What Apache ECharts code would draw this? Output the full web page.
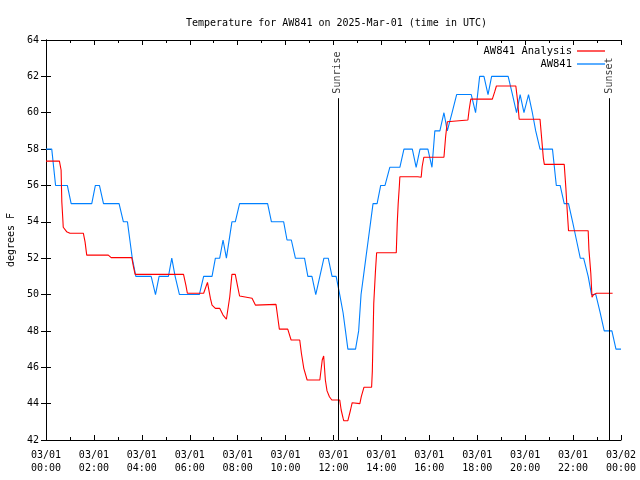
<!DOCTYPE html>
<html><head><meta charset="utf-8">
<script src="https://cdn.jsdelivr.net/npm/echarts@6/dist/echarts.min.js"></script>
<style>html,body{margin:0;padding:0;background:#fff}#c{width:640px;height:480px}</style>
</head><body><div id="c"></div>
<script>
const titleText = 'Temperature for AW841 on 2025-Mar-01 (time in UTC)';
const yName = 'degrees F';
const seriesNames = ['AW841 Analysis', 'AW841'];
const xTickLabels = {0:'03/01\n00:00',2:'03/01\n02:00',4:'03/01\n04:00',6:'03/01\n06:00',8:'03/01\n08:00',10:'03/01\n10:00',12:'03/01\n12:00',14:'03/01\n14:00',16:'03/01\n16:00',18:'03/01\n18:00',20:'03/01\n20:00',22:'03/01\n22:00',24:'03/02\n00:00'};
const sunriseH = 12.18;
const sunsetH = 23.51;
const markTop = 60.8;
const labelBase = 61.05;

// hours since 03/01 00:00 UTC, temperature F
const analysis = [
[0,57.34],[0.56,57.34],[0.63,56.85],[0.66,55.1],[0.7,54.2],[0.72,53.7],[0.86,53.46],[1.0,53.37],[1.56,53.37],[1.63,52.9],[1.7,52.17],[2.6,52.17],[2.72,52.03],[3.58,52.03],[3.65,51.53],[3.72,51.11],[4.49,51.11],[4.57,51.04],[4.69,51.11],[5.74,51.11],[5.84,50.5],[5.9,50.07],[6.58,50.07],[6.74,50.67],[6.86,49.8],[6.93,49.42],[7.07,49.24],[7.25,49.24],[7.39,48.87],[7.53,48.64],[7.67,49.88],[7.76,51.11],[7.9,51.11],[8.0,50.43],[8.08,49.92],[8.6,49.8],[8.74,49.42],[9.6,49.46],[9.67,48.78],[9.74,48.1],[10.09,48.1],[10.23,47.5],[10.59,47.5],[10.66,46.77],[10.76,45.94],[10.9,45.3],[11.43,45.3],[11.53,46.4],[11.59,46.62],[11.66,45.3],[11.73,44.7],[11.83,44.38],[11.93,44.2],[12.26,44.2],[12.32,43.65],[12.4,43.2],[12.43,43.06],[12.6,43.06],[12.71,43.65],[12.78,44.05],[13.1,44.0],[13.16,44.38],[13.27,44.9],[13.59,44.9],[13.62,45.76],[13.68,49.5],[13.75,51.26],[13.8,52.3],[14.62,52.3],[14.66,53.9],[14.7,55.0],[14.75,56.0],[14.77,56.48],[15.52,56.48],[15.6,56.45],[15.66,56.45],[15.7,57.03],[15.77,57.55],[16.61,57.55],[16.68,58.68],[16.75,59.5],[16.82,59.6],[17.61,59.6],[17.66,60.15],[17.73,60.75],[18.63,60.75],[18.73,61.16],[18.8,61.47],[19.61,61.47],[19.68,60.7],[19.75,59.64],[20.62,59.64],[20.68,58.72],[20.76,57.49],[20.8,57.16],[21.63,57.16],[21.7,55.84],[21.74,54.92],[21.81,53.51],[22.63,53.51],[22.66,52.5],[22.74,51.17],[22.79,49.85],[22.86,50.0],[22.98,50.07],[23.65,50.07]
];
const observed = [
[0,58],[0.24,58],[0.4,56],[0.89,56],[1.05,55],[1.91,55],[2.06,56],[2.23,56],[2.4,55],[3.05,55],[3.23,54],[3.4,54],[3.5,53],[3.6,52],[3.75,51],[4.39,51],[4.57,50],[4.72,51],[5.11,51],[5.25,52],[5.39,51],[5.57,50],[6.4,50],[6.58,51],[6.93,51],[7.07,52],[7.25,52],[7.39,53],[7.53,52],[7.76,54],[7.9,54],[8.08,55],[9.25,55],[9.41,54],[9.92,54],[10.06,53],[10.24,53],[10.41,52],[10.79,52],[10.93,51],[11.1,51],[11.26,50],[11.6,52],[11.78,52],[11.94,51],[12.11,51],[12.26,50],[12.4,49],[12.5,48],[12.6,47],[12.92,47],[13.05,48],[13.15,50],[13.25,51],[13.35,52],[13.45,53],[13.55,54],[13.65,55],[13.82,55],[13.97,56],[14.15,56],[14.35,57],[14.77,57],[14.94,58],[15.29,58],[15.45,57],[15.61,58],[15.94,58],[16.11,57],[16.23,59],[16.44,59],[16.61,60],[16.75,59],[16.95,60],[17.14,61],[17.75,61],[17.93,60],[18.1,62],[18.28,62],[18.45,61],[18.6,62],[19.29,62],[19.47,61],[19.64,60],[19.79,61],[19.95,60],[20.14,61],[20.3,60],[20.44,59],[20.62,58],[21.14,58],[21.3,56],[21.46,56],[21.63,55],[21.81,55],[21.98,54],[22.14,53],[22.3,52],[22.44,52],[22.63,51],[22.77,50],[22.95,50],[23.13,49],[23.3,48],[23.62,48],[23.79,47],[24,47]
];
const sunLabels = [[sunriseH, labelBase, 'Sunrise'], [sunsetH, labelBase, 'Sunset']];

const FONT = 'DejaVu Sans Mono';
const chart = echarts.init(document.getElementById('c'), null, {renderer:'canvas'});
const txt = {fontFamily: FONT, fontSize: 10, color: '#000'};
const axLine = {show: true, lineStyle: {color: '#000', width: 1}};
chart.setOption({
  animation: false,
  backgroundColor: '#fff',
  title: {text: titleText, left: 181, top: 13, textStyle: Object.assign({}, txt, {fontWeight: 'normal'})},
  grid: {left: 46, right: 19, top: 40, bottom: 40, containLabel: false, outerBoundsMode: 'none'},
  legend: {
    data: seriesNames, orient: 'vertical', right: 30, top: 40, align: 'right',
    icon: 'rect', itemWidth: 28, itemHeight: 1.3, itemGap: 1,
    textStyle: Object.assign({}, txt, {lineHeight: 12, fontSize: 10.5})
  },
  xAxis: [{
    type: 'value', min: 0, max: 24, interval: 2, position: 'bottom',
    axisLine: axLine, splitLine: {show: false},
    axisTick: {inside: true, length: 5, lineStyle: {color: '#000'}},
    minorTick: {show: true, splitNumber: 2, length: 3, lineStyle: {color: '#000'}},
    axisLabel: Object.assign({}, txt, {margin: 9, lineHeight: 13, formatter: v => xTickLabels[v] || ''})
  }, {
    type: 'value', min: 0, max: 24, interval: 2, position: 'top',
    axisLine: axLine, splitLine: {show: false},
    axisTick: {inside: true, length: 5, lineStyle: {color: '#000'}},
    minorTick: {show: true, splitNumber: 2, length: 3, lineStyle: {color: '#000'}},
    axisLabel: {show: false}
  }],
  yAxis: [{
    type: 'value', min: 42, max: 64, interval: 2, position: 'left',
    name: yName, nameLocation: 'middle', nameGap: 30, nameRotate: 90,
    nameTextStyle: txt,
    axisLine: axLine, splitLine: {show: false},
    axisTick: {inside: true, length: 5, lineStyle: {color: '#000'}},
    axisLabel: Object.assign({}, txt, {margin: 7})
  }, {
    type: 'value', min: 42, max: 64, interval: 2, position: 'right',
    axisLine: axLine, splitLine: {show: false},
    axisTick: {inside: true, length: 5, lineStyle: {color: '#000'}},
    axisLabel: {show: false}
  }],
  series: [{
    name: seriesNames[0], type: 'line', data: analysis, showSymbol: false, symbol: 'none',
    lineStyle: {color: '#ff0000', width: 1.1}, itemStyle: {color: '#ff0000'}, z: 3,
    markLine: {
      silent: true, symbol: 'none', label: {show: false},
      lineStyle: {color: '#000', width: 1, type: 'solid'},
      data: [
        [{coord: [sunriseH, 42]}, {coord: [sunriseH, markTop]}],
        [{coord: [sunsetH, 42]}, {coord: [sunsetH, markTop]}]
      ]
    }
  }, {
    name: seriesNames[1], type: 'line', data: observed, showSymbol: false, symbol: 'none',
    lineStyle: {color: '#0080ff', width: 1.1}, itemStyle: {color: '#0080ff'}, z: 2
  }, {
    type: 'scatter', data: sunLabels, symbolSize: 0, silent: true,
    label: {show: true, position: 'inside', rotate: 90, align: 'left', verticalAlign: 'middle',
      formatter: p => p.data[2], fontFamily: FONT, fontSize: 10, color: '#000'}
  }]
});
</script></body></html>
